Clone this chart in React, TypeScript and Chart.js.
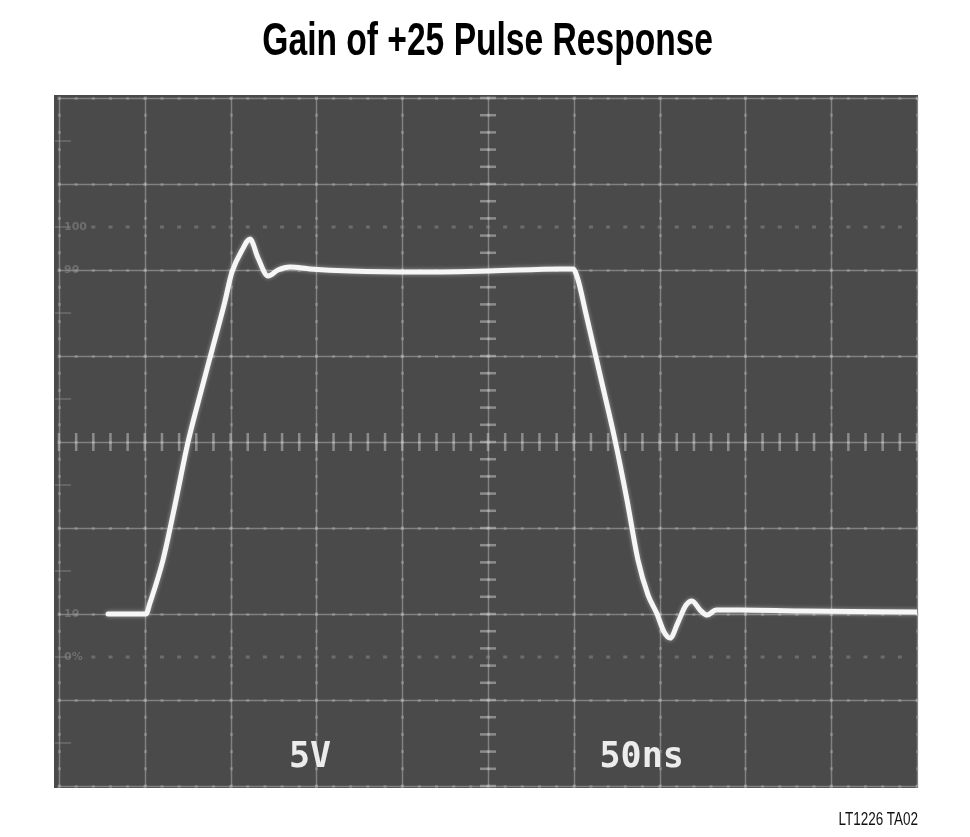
import React, { useEffect, useRef } from "react";
import { Chart, registerables } from "chart.js";

Chart.register(...registerables);

// ---- data (time in ns, 50 ns/div; amplitude in V, 5 V/div) ----
const timeNs = [
  28.6, 50.7, 53.0, 60.6, 67.6, 75.2, 82.2, 89.2, 96.2, 100.8, 106.7, 111.3, 116.0, 121.8,
  127.6, 134.6, 146.3, 169.6, 210.4, 251.2, 292.0, 299.6, 302.5, 306.6, 315.3, 324.0,
  331.0, 337.4, 343.3, 348.5, 352.6, 356.1, 360.8, 365.4, 368.9, 373.6, 377.7, 382.9,
  396.9, 431.9, 500.0,
];
const volts = [
  -10.0, -10.0, -9.36, -6.86, -3.66, 0.0, 2.73, 5.35, 7.97, 9.88, 11.16, 11.8, 10.7, 9.65,
  10.0, 10.17, 10.06, 9.94, 9.88, 9.94, 10.06, 10.06, 9.42, 7.67, 3.9, 0.12,
  -3.37, -6.86, -8.9, -10.0, -11.05, -11.4, -10.47, -9.48, -9.24, -9.77, -10.06, -9.77,
  -9.77, -9.83, -9.88,
];
const xGridNs = [0, 50, 100, 150, 200, 250, 300, 350, 400, 450, 500];
const yGridV = [-20, -15, -10, -5, 0, 5, 10, 15, 20];
const refLevelsV = [12.5, -12.5];
const levelLabels = ["100", "90", "10", "0%"];
const levelLabelValues = [12.5, 10, -10, -12.5];
const scaleLabels = ["5V", "50ns"];
const titleText = "Gain of +25 Pulse Response";
const footerText = "LT1226 TA02";

const graticulePlugin = {
  id: "graticule",
  beforeDraw(chart: any) {
    const { ctx, chartArea: a } = chart;
    ctx.save();
    ctx.fillStyle = "#4a4a4a";
    ctx.fillRect(a.left - 5, a.top - 3, a.right - a.left + 6, a.bottom - a.top + 5);
    ctx.restore();
  },
  beforeDatasetsDraw(chart: any) {
    const { ctx, chartArea: a, scales } = chart;
    const xs = scales.x;
    const ys = scales.y;
    ctx.save();
    // main grid lines
    ctx.strokeStyle = "rgba(175,175,175,0.55)";
    ctx.lineWidth = 1.5;
    xGridNs.forEach((t) => {
      const px = Math.round(xs.getPixelForValue(t)) + 0.5;
      ctx.beginPath();
      ctx.moveTo(px, a.top);
      ctx.lineTo(px, a.bottom);
      ctx.stroke();
    });
    yGridV.forEach((v) => {
      const py = Math.round(ys.getPixelForValue(v)) + 0.5;
      ctx.beginPath();
      ctx.moveTo(a.left, py);
      ctx.lineTo(a.right, py);
      ctx.stroke();
    });
    // minor dots along grid lines
    ctx.fillStyle = "rgba(200,200,200,0.3)";
    yGridV.forEach((v) => {
      const py = Math.round(ys.getPixelForValue(v));
      for (let t = 0; t <= 500; t += 10) {
        const px = xs.getPixelForValue(t);
        ctx.fillRect(px - 1.5, py - 1, 3, 3);
      }
    });
    xGridNs.forEach((t) => {
      const px = Math.round(xs.getPixelForValue(t));
      for (let v = -20; v <= 20; v += 1) {
        const py = ys.getPixelForValue(v);
        ctx.fillRect(px - 1, py - 1.5, 3, 3);
      }
    });
    // center axis minor ticks
    const x0 = xs.getPixelForValue(250);
    const y0 = ys.getPixelForValue(0);
    ctx.strokeStyle = "rgba(195,195,195,0.55)";
    ctx.lineWidth = 2.5;
    for (let t = 0; t <= 500; t += 10) {
      const px = xs.getPixelForValue(t);
      ctx.beginPath();
      ctx.moveTo(px, y0 - 9);
      ctx.lineTo(px, y0 + 9);
      ctx.stroke();
    }
    for (let v = -20; v <= 20; v += 1) {
      const py = ys.getPixelForValue(v);
      ctx.beginPath();
      ctx.moveTo(x0 - 8, py);
      ctx.lineTo(x0 + 8, py);
      ctx.stroke();
    }
    // 0% / 100% dotted reference lines
    ctx.fillStyle = "rgba(150,150,150,0.45)";
    refLevelsV.forEach((v) => {
      const py = ys.getPixelForValue(v);
      for (let t = 20; t <= 490; t += 10) {
        const px = xs.getPixelForValue(t);
        ctx.fillRect(px - 2, py - 1.5, 4, 3);
      }
    });
    // left edge half-division ticks
    ctx.strokeStyle = "rgba(150,150,150,0.45)";
    ctx.lineWidth = 1.5;
    for (let v = -17.5; v <= 17.5; v += 5) {
      const py = ys.getPixelForValue(v);
      ctx.beginPath();
      ctx.moveTo(a.left - 4, py);
      ctx.lineTo(a.left + 12, py);
      ctx.stroke();
    }
    // faint level labels
    ctx.fillStyle = "rgba(140,140,140,0.55)";
    ctx.font = "bold 11px 'DejaVu Sans'";
    ctx.textAlign = "left";
    ctx.textBaseline = "middle";
    levelLabels.forEach((s, i) => {
      ctx.fillText(s, a.left + 5, ys.getPixelForValue(levelLabelValues[i]));
    });
    ctx.restore();
  },
  beforeDatasetDraw(chart: any) {
    const ctx = chart.ctx;
    ctx.save();
    ctx.shadowColor = "rgba(255,255,255,0.45)";
    ctx.shadowBlur = 4;
  },
  afterDatasetDraw(chart: any) {
    chart.ctx.restore();
  },
  afterDatasetsDraw(chart: any) {
    const { ctx, scales } = chart;
    const xs = scales.x;
    const ys = scales.y;
    ctx.save();
    ctx.fillStyle = "#ececec";
    ctx.font = "bold 35px 'DejaVu Sans Mono'";
    ctx.textAlign = "left";
    ctx.textBaseline = "alphabetic";
    const base = ys.getPixelForValue(-18.9);
    ctx.fillText(scaleLabels[0], xs.getPixelForValue(134), base);
    ctx.fillText(scaleLabels[1], xs.getPixelForValue(315), base);
    ctx.restore();
  },
};

export default function App() {
  const canvasRef = useRef<HTMLCanvasElement | null>(null);

  useEffect(() => {
    document.body.style.margin = "0";
    const canvas = canvasRef.current;
    if (!canvas) return;
    const chart = new Chart(canvas, {
      type: "line",
      data: {
        datasets: [
          {
            data: timeNs.map((t, i) => ({ x: t, y: volts[i] })),
            borderColor: "#f6f6f6",
            borderWidth: 5,
            pointRadius: 0,
            cubicInterpolationMode: "monotone",
            fill: false,
            borderCapStyle: "round",
            borderJoinStyle: "round",
          },
        ],
      },
      options: {
        animation: false,
        responsive: false,
        maintainAspectRatio: false,
        layout: { padding: { left: 59, top: 98, right: 53, bottom: 51 } },
        plugins: { legend: { display: false }, tooltip: { enabled: false }, title: { display: false } },
        scales: {
          x: { type: "linear", min: 0, max: 500, display: false },
          y: { type: "linear", min: -20, max: 20, display: false },
        },
      },
      plugins: [graticulePlugin],
    } as any);
    return () => chart.destroy();
  }, []);

  return (
    <div style={{ position: "relative", width: 970, height: 837, background: "#fff", overflow: "hidden" }}>
      <canvas ref={canvasRef} width={970} height={837} style={{ position: "absolute", left: 0, top: 0, width: 970, height: 837 }} />
      <div
        style={{
          position: "absolute",
          left: 0,
          top: 12,
          width: 976,
          textAlign: "center",
          fontFamily: "'Liberation Sans', Arial, sans-serif",
          fontWeight: "bold",
          fontSize: 46,
          lineHeight: "54px",
          color: "#000",
        }}
      >
        <span style={{ display: "inline-block", transform: "scaleX(0.73)", transformOrigin: "center" }}>{titleText}</span>
      </div>
      <div
        style={{
          position: "absolute",
          right: 52,
          top: 808,
          fontFamily: "'Liberation Sans', Arial, sans-serif",
          fontSize: 18,
          lineHeight: "22px",
          color: "#111",
          transform: "scaleX(0.75)",
          transformOrigin: "right center",
          whiteSpace: "nowrap",
        }}
      >
        {footerText}
      </div>
    </div>
  );
}
